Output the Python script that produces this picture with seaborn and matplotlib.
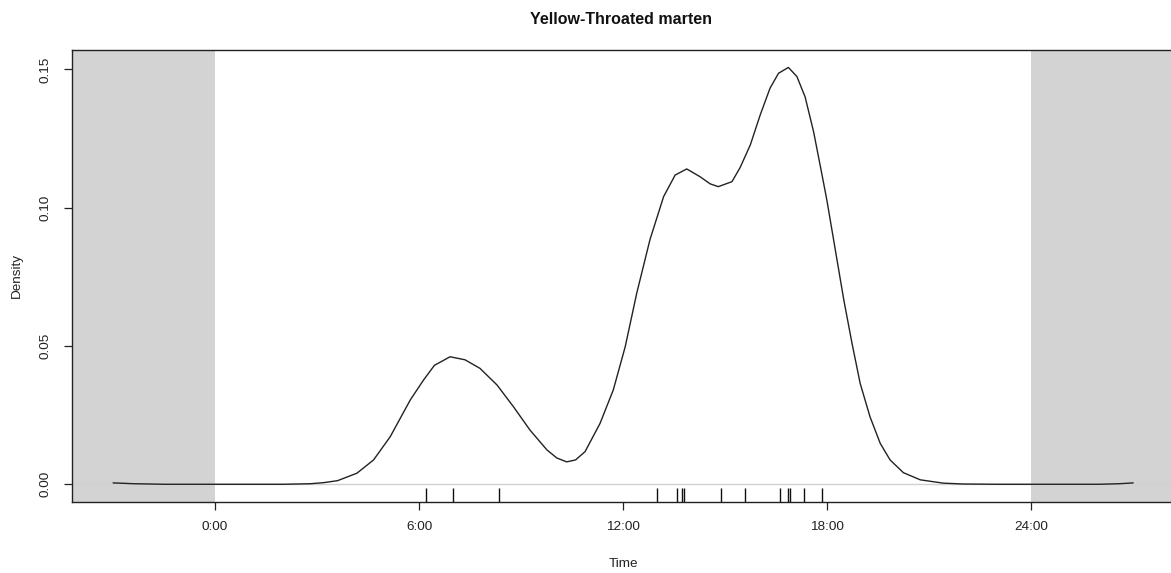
import matplotlib
matplotlib.use("Agg")
import matplotlib.pyplot as plt
import seaborn as sns
import pandas as pd

# Density curve (time in hours, density)
curve_hours = [-3.0, -2.4, -1.5, 0.0, 1.0, 2.0, 2.8, 3.2, 3.6, 4.17, 4.66, 5.15, 5.74,
               6.13, 6.45, 6.91, 7.35, 7.79, 8.29, 8.77, 9.26, 9.76, 10.05, 10.34, 10.6,
               10.88, 11.32, 11.71, 12.06, 12.40, 12.79, 13.19, 13.53, 13.87, 14.26, 14.56,
               14.80, 15.20, 15.44, 15.74, 16.03, 16.32, 16.57, 16.86, 17.11, 17.35, 17.60,
               17.84, 17.99, 18.24, 18.49, 18.73, 18.97, 19.26, 19.56, 19.85, 20.24, 20.74,
               21.42, 22.0, 23.0, 24.0, 25.0, 26.0, 26.6, 27.0]
curve_density = [0.0005, 0.0002, 0.0, 0.0, 0.0, 0.0, 0.0002, 0.0006, 0.0013, 0.0040, 0.0088,
                 0.0172, 0.0305, 0.0377, 0.0430, 0.0461, 0.0450, 0.0419, 0.0359, 0.0281,
                 0.0196, 0.0124, 0.0095, 0.0081, 0.0088, 0.0118, 0.0220, 0.0341, 0.0497,
                 0.0691, 0.0885, 0.1040, 0.1118, 0.1140, 0.1112, 0.1086, 0.1076, 0.1094,
                 0.1145, 0.1227, 0.1335, 0.1432, 0.1486, 0.1507, 0.1474, 0.1401, 0.1275,
                 0.1124, 0.1028, 0.0847, 0.0666, 0.0510, 0.0365, 0.0244, 0.0148, 0.0088,
                 0.0042, 0.0016, 0.0004, 0.0001, 0.0, 0.0, 0.0, 0.0, 0.0002, 0.0005]

# Observation times (rug)
rug_hours = [6.21, 7.00, 8.35, 13.00, 13.59, 13.72, 13.78, 14.88, 15.59, 16.62,
             16.84, 16.90, 17.32, 17.85]

tick_hours = [0, 6, 12, 18, 24]
tick_labels = ["0:00", "6:00", "12:00", "18:00", "24:00"]
ytick_vals = [0.00, 0.05, 0.10, 0.15]
ytick_labels = ["0.00", "0.05", "0.10", "0.15"]

title = "Yellow-Throated marten"

sns.set_style("white")
plt.rcParams["font.family"] = ["Liberation Sans", "DejaVu Sans"]

W, H = 1171, 573
fig = plt.figure(figsize=(W / 100, H / 100), dpi=100)
left, right, top, bottom = 72.3, 1174.0, 50.0, 501.7
ax = fig.add_axes([left / W, (H - bottom) / H, (right - left) / W, (bottom - top) / H])

xmin, xmax = -4.2, 28.2
ymin, ymax = -0.0063, 0.1570

ax.axvspan(xmin, 0, color="#d3d3d3", lw=0, zorder=0)
ax.axvspan(24, xmax, color="#d3d3d3", lw=0, zorder=0)
ax.axhline(0, color="#d0d0d0", lw=1.0, zorder=1)

df = pd.DataFrame({"hour": curve_hours, "density": curve_density})
sns.lineplot(data=df, x="hour", y="density", ax=ax, color="#222222", lw=1.0,
             estimator=None, sort=False, zorder=3, solid_joinstyle="round")
sns.rugplot(x=rug_hours, ax=ax, height=0.03, color="#111111", lw=1.0, zorder=3)

ax.set_xlim(xmin, xmax)
ax.set_ylim(ymin, ymax)
ax.set_xticks(tick_hours)
ax.set_xticklabels(tick_labels)
ax.set_yticks(ytick_vals)
ax.set_yticklabels(ytick_labels, rotation=90, va="center")
ax.tick_params(axis="both", direction="out", length=6, width=0.9, color="#222222",
               labelsize=9.7, labelcolor="#222222", left=True, bottom=True)
ax.tick_params(axis="x", pad=8)
ax.tick_params(axis="y", pad=9)

for s in ax.spines.values():
    s.set_visible(True)
    s.set_color("#222222")
    s.set_linewidth(1.0)

ax.set_xlabel("Time", fontsize=9.7, color="#222222", labelpad=18)
ax.set_ylabel("Density", fontsize=9.7, color="#222222", labelpad=12)
fig.text(621 / W, 1 - 20 / H, title, ha="center", va="center", fontsize=11.5,
         fontweight="bold", color="#111111")

fig.savefig("out.png", dpi=100)
